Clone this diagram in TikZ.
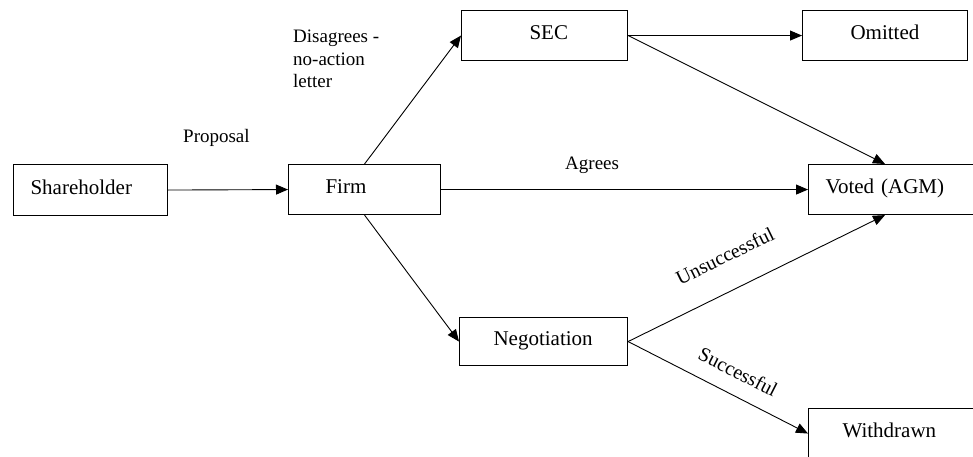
\documentclass[tikz,border=0pt]{standalone}
\usepackage{fontspec}
\setmainfont{Liberation Serif}
\usetikzlibrary{arrows.meta,calc}
\begin{document}
\begin{tikzpicture}[x=1pt,y=-1pt,
  box/.style={draw, line width=1.1pt, anchor=north west, inner ysep=0pt,
    text height=13.5pt, text depth=5pt, align=left,
    font=\fontsize{21pt}{25pt}\selectfont},
  lbl/.style={inner sep=0pt, font=\fontsize{19pt}{22.5pt}\selectfont},
  slbl/.style={inner sep=0pt, font=\fontsize{20pt}{24pt}\selectfont},
  conn/.style={line width=0.9pt, -{Triangle[length=12pt,width=10pt]}}]
\useasboundingbox (0,0) rectangle (973,457);
\clip (0,0) rectangle (973,457);
% boxes
\node[box, minimum width=154pt, minimum height=51pt, inner xsep=17pt, text width=120pt] (sh) at (13,164) {Shareholder};
\node[box, minimum width=152pt, minimum height=50pt, inner xsep=37pt, text width=78pt] (firm) at (288,164) {Firm};
\node[box, minimum width=166pt, minimum height=50pt, inner xsep=68pt, text width=30pt] (sec) at (461,10) {SEC};
\node[box, minimum width=165pt, minimum height=50pt, inner xsep=48pt, text width=69pt] (omit) at (802,10) {Omitted};
\node[box, minimum width=165pt, minimum height=50pt, inner xsep=17pt, text width=131pt] (voted) at (808,164) {Voted (AGM)};
\node[box, minimum width=168pt, minimum height=48pt, inner xsep=34pt, text width=100pt] (neg) at (459,317) {Negotiation};
\node[box, minimum width=165pt, minimum height=50pt, inner xsep=34pt, text width=97pt] (wd) at (808,408) {Withdrawn};
% connectors
\draw[conn] (sh.east) -- (firm.west);
\draw[conn] (firm.north) -- (sec.west);
\draw[conn] (firm.east) -- (voted.west);
\draw[conn] (firm.south) -- (neg.west);
\draw[conn] (sec.east) -- (omit.west);
\coordinate (vtop) at ($(voted.north west)+(77,0)$);
\coordinate (vbot) at ($(voted.south west)+(77,0)$);
\draw[conn] (sec.east) -- (vtop);
\draw[conn] (neg.east) -- (vbot);
\draw[conn] (neg.east) -- (wd.west);
% labels
\node[lbl, anchor=base west] (lprop) at (183,143) {Proposal};
\node[lbl, anchor=base west, align=left] (ldis) at (293,88) {Disagrees -\\no-action\\letter};
\node[lbl, anchor=base west] (lagr) at (565,170) {Agrees};
\node[slbl, anchor=base, rotate=26] (lun) at (728,262) {Unsuccessful};
\node[slbl, anchor=base, rotate=-27] (lsu) at (735,378) {Successful};
\end{tikzpicture}
\end{document}
